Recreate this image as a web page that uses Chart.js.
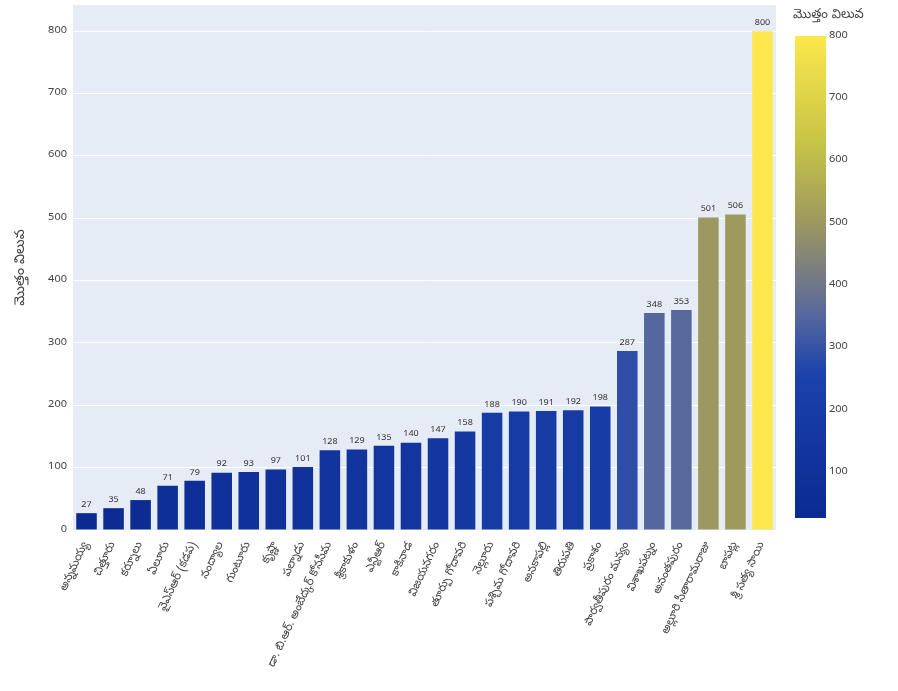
<!DOCTYPE html>
<html>
<head>
<meta charset="utf-8">
<script src="https://cdn.jsdelivr.net/npm/chart.js@4.4.1/dist/chart.umd.min.js"></script>
<style>
  html, body { margin: 0; padding: 0; background: #fff; }
  #wrap { width: 898px; height: 691px; }
</style>
</head>
<body>
<div id="wrap"><canvas id="grafica" width="898" height="691"></canvas></div>
<script>
// Datos (distritos y totales)
const distritos = [
  "అన్నమయ్య", "చిత్తూరు", "కర్నూలు", "ఏలూరు", "వైఎస్ఆర్ (కడప)", "నంద్యాల",
  "గుంటూరు", "కృష్ణా", "పల్నాడు", "డా. బి.ఆర్. అంబేద్కర్ కోనసీమ", "శ్రీకాకుళం",
  "ఎన్టీఆర్", "కాకినాడ", "విజయనగరం", "తూర్పు గోదావరి", "నెల్లూరు", "పశ్చిమ గోదావరి",
  "అనకాపల్లి", "తిరుపతి", "ప్రకాశం", "పార్వతీపురం మన్యం", "విశాఖపట్నం", "అనంతపురం",
  "అల్లూరి సీతారామరాజు", "బాపట్ల", "శ్రీ సత్య సాయి"
];
const totales = [27, 35, 48, 71, 79, 92, 93, 97, 101, 128, 129, 135, 140, 147, 158,
  188, 190, 191, 192, 198, 287, 348, 353, 501, 506, 800];
const ticksY = [0, 100, 200, 300, 400, 500, 600, 700, 800];
const ticksBarra = [100, 200, 300, 400, 500, 600, 700, 800];
const tituloEje = "మొత్తం విలువ";

// Escala de color tipo cividis (como sale en la imagen)
const paradas = [
  [0.00, [10, 42, 145]],
  [0.30, [28, 66, 172]],
  [0.42, [86, 104, 158]],
  [0.52, [125, 127, 125]],
  [0.62, [158, 154, 94]],
  [0.78, [200, 196, 70]],
  [1.00, [253, 231, 76]]
];
const vMin = Math.min(...totales), vMax = Math.max(...totales);

function colorDe(v) {
  const t = (v - vMin) / (vMax - vMin);
  for (let i = 1; i < paradas.length; i++) {
    if (t <= paradas[i][0]) {
      const [t0, c0] = paradas[i - 1], [t1, c1] = paradas[i];
      const f = (t - t0) / (t1 - t0);
      const c = c0.map((x, k) => Math.round(x + (c1[k] - x) * f));
      return `rgb(${c.join(',')})`;
    }
  }
  return `rgb(${paradas[paradas.length - 1][1].join(',')})`;
}

const fuente = '"Noto Sans Telugu", "Noto Sans", "Open Sans", sans-serif';

// Fondo del área del gráfico
const fondoPlot = {
  id: 'fondoPlot',
  beforeDraw(chart) {
    const { ctx, chartArea: a } = chart;
    ctx.save();
    ctx.fillStyle = '#E5ECF6';
    ctx.fillRect(a.left, a.top, a.right - a.left, a.bottom - a.top);
    ctx.restore();
  }
};

// Números encima de cada barra
const etiquetasBarras = {
  id: 'etiquetasBarras',
  afterDatasetsDraw(chart) {
    const { ctx } = chart;
    const meta = chart.getDatasetMeta(0);
    ctx.save();
    ctx.font = '9px ' + fuente;
    ctx.fillStyle = '#333';
    ctx.textAlign = 'center';
    ctx.textBaseline = 'bottom';
    meta.data.forEach((bar, i) => {
      ctx.fillText(String(totales[i]), bar.x, bar.y - 3);
    });
    ctx.restore();
  }
};

// Barra de color a la derecha
const barraColor = {
  id: 'barraColor',
  afterDraw(chart) {
    const { ctx } = chart;
    const x = 795, w = 31, yTop = 36, yBot = 518;
    const yDe = v => yBot - (v - vMin) / (vMax - vMin) * (yBot - yTop);
    ctx.save();
    const g = ctx.createLinearGradient(0, yBot, 0, yTop);
    paradas.forEach(([t, c]) => g.addColorStop(t, `rgb(${c.join(',')})`));
    ctx.fillStyle = g;
    ctx.fillRect(x, yTop, w, yBot - yTop);
    ctx.font = '11px ' + fuente;
    ctx.fillStyle = '#444';
    ctx.textAlign = 'left';
    ctx.textBaseline = 'middle';
    ticksBarra.forEach(v => ctx.fillText(String(v), x + w + 3, yDe(v)));
    ctx.font = '13px ' + fuente;
    ctx.textBaseline = 'middle';
    ctx.fillText(tituloEje, 793, 16);
    ctx.restore();
  }
};

new Chart(document.getElementById('grafica'), {
  type: 'bar',
  data: {
    labels: distritos,
    datasets: [{
      data: totales,
      backgroundColor: totales.map(colorDe),
      borderWidth: 0,
      categoryPercentage: 1,
      barPercentage: 0.76
    }]
  },
  options: {
    responsive: false,
    animation: false,
    layout: { padding: { top: 5, right: 122, left: 0, bottom: 0 } },
    plugins: { legend: { display: false }, tooltip: { enabled: false } },
    scales: {
      x: {
        grid: { display: false },
        border: { display: false },
        afterFit(s) { s.height = 161; s.paddingLeft = 0; s.paddingRight = 0; },
        ticks: {
          autoSkip: false,
          minRotation: 65,
          maxRotation: 65,
          color: '#444',
          padding: 2,
          font: { size: 11.5, family: fuente }
        }
      },
      y: {
        min: 0,
        max: 842,
        afterFit(s) { s.width = 73; s.paddingTop = 0; s.paddingBottom = 0; },
        afterBuildTicks(s) { s.ticks = ticksY.map(v => ({ value: v })); },
        grid: { color: '#ffffff', lineWidth: 1, drawTicks: false },
        border: { display: false },
        ticks: { color: '#444', padding: 6, font: { size: 11, family: fuente } },
        title: {
          display: true,
          text: tituloEje,
          color: '#444',
          font: { size: 14, family: fuente },
          padding: { top: 14, bottom: 8 }
        }
      }
    }
  },
  plugins: [fondoPlot, etiquetasBarras, barraColor]
});
</script>
</body>
</html>
